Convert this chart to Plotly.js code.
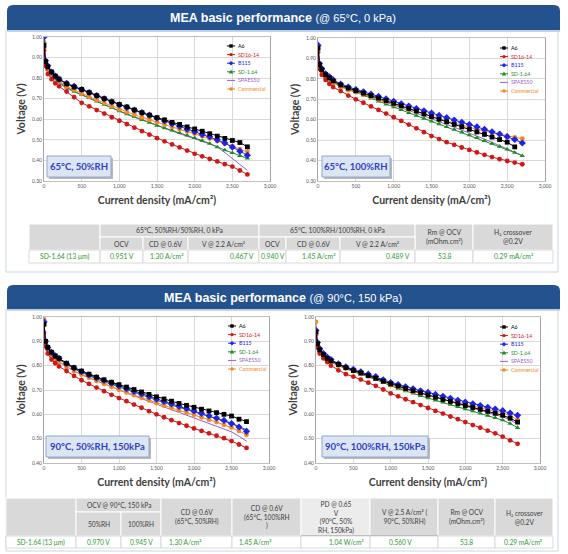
<!DOCTYPE html>
<html><head><meta charset="utf-8">
<script src="https://cdn.plot.ly/plotly-3.0.1.min.js"></script>
<style>html,body{margin:0;padding:0;background:#fff;}#chart{width:568px;height:554px;}</style>
</head><body><div id="chart"></div>
<script>
// ---------------- DATA ----------------
const currentDensity = [0,20,50,100,150,200,300,400,500,600,700,800,900,1000,1100,1200,1300,1400,1500,1600,1700,1800,1900,2000,2100,2200,2300,2400,2500,2600,2700];
const seriesNames = ['A6','SD16-14','B115','SD-1.64','SPAES50','Commercial'];

// 65°C, 50%RH
const tl_A6 = [0.96,0.88,0.855,0.83,0.81,0.795,0.772,0.757,0.745,0.73,0.715,0.70,0.685,0.672,0.66,0.645,0.632,0.62,0.608,0.597,0.585,0.575,0.563,0.553,0.542,0.53,0.518,0.507,0.497,0.487,0.466];
const tl_SD1614 = [0.935,0.86,0.82,0.795,0.775,0.76,0.735,0.707,0.68,0.663,0.645,0.628,0.61,0.593,0.576,0.559,0.542,0.525,0.508,0.493,0.478,0.463,0.448,0.432,0.42,0.407,0.395,0.382,0.37,0.351,0.332];
const tl_B115 = [1.00,0.885,0.86,0.83,0.81,0.795,0.775,0.76,0.745,0.73,0.715,0.70,0.685,0.67,0.658,0.645,0.632,0.62,0.605,0.592,0.578,0.565,0.552,0.54,0.527,0.515,0.50,0.485,0.465,0.445,0.425];
const tl_SD164 = [0.95,0.87,0.84,0.815,0.795,0.78,0.755,0.735,0.72,0.704,0.688,0.672,0.656,0.64,0.626,0.612,0.598,0.584,0.57,0.558,0.546,0.534,0.522,0.51,0.496,0.482,0.465,0.45,0.437,0.423,0.41];
const tl_SPAES50 = [0.96,0.87,0.84,0.81,0.79,0.775,0.75,0.732,0.718,0.702,0.686,0.67,0.654,0.638,0.624,0.61,0.596,0.582,0.568,0.556,0.543,0.53,0.518,0.505,0.492,0.48,0.466,0.44,0.41,0.38,0.352];
const tl_Commercial = [0.975,0.87,0.845,0.815,0.80,0.785,0.76,0.742,0.725,0.71,0.694,0.679,0.663,0.648,0.635,0.622,0.61,0.597,0.585,0.574,0.563,0.552,0.541,0.53,0.518,0.506,0.494,0.482,0.47,0.455,0.441];

// 65°C, 100%RH
const tr_A6 = [0.95,0.87,0.845,0.82,0.805,0.79,0.77,0.755,0.742,0.73,0.718,0.706,0.693,0.68,0.668,0.655,0.642,0.628,0.615,0.602,0.59,0.577,0.565,0.553,0.54,0.528,0.515,0.503,0.49,0.467,null];
const tr_SD1614 = [0.93,0.85,0.82,0.795,0.775,0.76,0.74,0.718,0.70,0.683,0.665,0.648,0.63,0.612,0.594,0.576,0.558,0.539,0.52,0.505,0.49,0.477,0.464,0.452,0.44,0.428,0.417,0.407,0.398,0.39,0.382];
const tr_B115 = [0.965,0.875,0.85,0.825,0.81,0.795,0.775,0.76,0.748,0.737,0.725,0.714,0.702,0.69,0.678,0.667,0.655,0.644,0.633,0.621,0.61,0.598,0.587,0.576,0.565,0.553,0.541,0.53,0.517,0.503,0.486];
const tr_SD164 = [0.955,0.865,0.84,0.815,0.80,0.785,0.763,0.747,0.735,0.72,0.705,0.69,0.676,0.662,0.648,0.634,0.62,0.606,0.592,0.579,0.565,0.552,0.539,0.525,0.511,0.497,0.483,0.469,0.455,0.439,0.423];
const tr_SPAES50 = [0.96,0.87,0.84,0.815,0.80,0.785,0.765,0.75,0.738,0.725,0.712,0.699,0.687,0.674,0.66,0.646,0.632,0.618,0.605,0.591,0.577,0.563,0.549,0.535,0.52,0.505,0.489,0.473,0.457,0.441,0.425];
const tr_Commercial = [0.96,0.86,0.835,0.81,0.795,0.78,0.76,0.745,0.735,0.723,0.712,0.70,0.688,0.675,0.663,0.651,0.64,0.628,0.617,0.605,0.594,0.583,0.572,0.562,0.553,0.544,0.536,0.528,0.52,0.513,0.507];

// 90°C, 50%RH, 150kPa
const bl_A6 = [0.97,0.90,0.875,0.855,0.84,0.83,0.81,0.792,0.778,0.765,0.753,0.742,0.732,0.722,0.712,0.702,0.692,0.682,0.672,0.663,0.654,0.645,0.637,0.629,0.621,0.614,0.607,0.60,0.593,0.58,0.57];
const bl_SD1614 = [0.935,0.88,0.85,0.825,0.81,0.797,0.778,0.758,0.74,0.725,0.71,0.695,0.68,0.667,0.654,0.64,0.627,0.613,0.60,0.588,0.576,0.564,0.553,0.542,0.532,0.522,0.512,0.502,0.49,0.476,0.462];
const bl_B115 = [0.98,0.90,0.875,0.855,0.84,0.83,0.808,0.79,0.775,0.762,0.75,0.739,0.728,0.716,0.705,0.694,0.684,0.673,0.662,0.653,0.643,0.633,0.624,0.614,0.604,0.594,0.585,0.575,0.562,0.548,0.53];
const bl_SD164 = [0.975,0.895,0.87,0.85,0.835,0.825,0.805,0.787,0.772,0.758,0.746,0.734,0.723,0.712,0.70,0.689,0.678,0.668,0.658,0.648,0.638,0.629,0.62,0.611,0.602,0.593,0.584,0.575,0.564,0.55,0.536];
const bl_SPAES50 = [0.975,0.89,0.865,0.845,0.83,0.815,0.795,0.778,0.763,0.75,0.737,0.725,0.713,0.70,0.688,0.676,0.664,0.652,0.641,0.63,0.619,0.608,0.597,0.586,0.575,0.564,0.553,0.541,0.528,0.51,0.49];
const bl_Commercial = [0.99,0.89,0.865,0.84,0.825,0.815,0.795,0.778,0.763,0.75,0.737,0.725,0.713,0.701,0.69,0.679,0.668,0.657,0.646,0.636,0.626,0.616,0.607,0.598,0.588,0.578,0.568,0.557,0.546,0.532,0.516];

// 90°C, 100%RH, 150kPa
const br_A6 = [0.94,0.89,0.865,0.845,0.83,0.82,0.805,0.792,0.78,0.77,0.759,0.748,0.736,0.725,0.716,0.706,0.697,0.688,0.679,0.67,0.661,0.653,0.644,0.636,0.628,0.62,0.612,0.604,0.596,0.584,0.568];
const br_SD1614 = [0.93,0.875,0.85,0.83,0.815,0.80,0.781,0.765,0.755,0.743,0.73,0.717,0.702,0.686,0.674,0.662,0.65,0.638,0.626,0.614,0.603,0.591,0.58,0.568,0.556,0.545,0.533,0.522,0.508,0.493,0.479];
const br_B115 = [0.945,0.895,0.87,0.85,0.835,0.825,0.808,0.795,0.785,0.775,0.765,0.755,0.742,0.731,0.722,0.713,0.705,0.697,0.69,0.682,0.674,0.666,0.658,0.65,0.643,0.636,0.629,0.622,0.615,0.605,0.596];
const br_SD164 = [0.93,0.885,0.86,0.84,0.825,0.815,0.80,0.787,0.776,0.765,0.754,0.743,0.731,0.717,0.706,0.696,0.686,0.676,0.667,0.658,0.649,0.64,0.631,0.622,0.613,0.604,0.595,0.586,0.576,0.562,0.545];
const br_SPAES50 = [0.95,0.89,0.865,0.845,0.83,0.82,0.805,0.792,0.782,0.771,0.76,0.749,0.737,0.726,0.716,0.706,0.696,0.687,0.678,0.669,0.66,0.651,0.642,0.633,0.625,0.617,0.609,0.60,0.59,0.577,0.56];
const br_Commercial = [0.98,0.885,0.86,0.84,0.825,0.815,0.80,0.788,0.778,0.767,0.757,0.747,0.735,0.72,0.711,0.702,0.693,0.685,0.677,0.669,0.661,0.654,0.647,0.641,0.634,0.627,0.62,0.613,0.606,0.595,0.578];

const panelTitles = ['MEA basic performance', 'MEA basic performance'];
const panelConditions = ['(@ 65°C, 0 kPa)', '(@ 90°C, 150 kPa)'];
const chartConditions = ['65°C, 50%RH', '65°C, 100%RH', '90°C, 50%RH, 150kPa', '90°C, 100%RH, 150kPa'];
const xTitle = 'Current density (mA/cm²)';
const yTitle = 'Voltage (V)';

// table 1
const t1GroupHeaders = ['65°C, 50%RH/50%RH, 0 kPa', '65°C, 100%RH/100%RH, 0 kPa'];
const t1SubHeaders = ['OCV', 'CD @ 0.6V', 'V @ 2.2 A/cm²', 'OCV', 'CD @ 0.6V', 'V @ 2.2 A/cm²'];
const t1SideHeaders = ['Rm @ OCV<br>(mOhm.cm²)', 'H₂ crossover<br>@0.2V'];
const t1Row = ['SD-1.64 (13 μm)', '0.951 V', '1.30 A/cm²', '0.467 V', '0.940 V', '1.45 A/cm²', '0.489 V', '53.8', '0.29 mA/cm²'];
// table 2
const t2GroupHeader = 'OCV @ 90°C, 150 kPa';
const t2SubHeaders = ['50%RH', '100%RH'];
const t2Headers = ['CD @ 0.6V<br>(65°C, 50%RH)', 'CD @ 0.6V<br>(65°C, 100%RH<br>)', 'PD @ 0.65<br>V<br>(90°C, 50%<br>RH, 150kPa)', 'V @ 2.5 A/cm² (<br>90°C, 50%RH)', 'Rm @ OCV<br>(mOhm.cm²)', 'H₂ crossover<br>@0.2V'];
const t2Row = ['SD-1.64 (13 μm)', '0.970 V', '0.945 V', '1.30 A/cm²', '1.45 A/cm²', '1.04 W/cm²', '0.560 V', '53.8', '0.29 mA/cm²'];

// ---------------- STYLE ----------------
const W = 568, H = 554;
const X = v => v / W, Y = v => 1 - v / H;
const colors = ['#000000', '#d01818', '#2222e6', '#1e8c28', '#9a5fd0', '#f5881f'];
const symbols = ['square', 'circle', 'diamond', 'triangle-up', null, 'circle'];
const FONT = 'Lato, "Open Sans", "DejaVu Sans", sans-serif';

const charts = [
  {data:[tl_A6,tl_SD1614,tl_B115,tl_SD164,tl_SPAES50,tl_Commercial], xa:'x',  ya:'y',  box:[44,270,37,181], yr:[0.3,1.0], leg:[227,46],  cond:[47,111,156,177]},
  {data:[tr_A6,tr_SD1614,tr_B115,tr_SD164,tr_SPAES50,tr_Commercial], xa:'x2', ya:'y2', box:[318,545,38,181], yr:[0.3,1.0], leg:[500,48], cond:[322,390,156,177]},
  {data:[bl_A6,bl_SD1614,bl_B115,bl_SD164,bl_SPAES50,bl_Commercial], xa:'x3', ya:'y3', box:[44,269,317,463], yr:[0.4,1.0], leg:[228,326], cond:[46,149,436,457]},
  {data:[br_A6,br_SD1614,br_B115,br_SD164,br_SPAES50,br_Commercial], xa:'x4', ya:'y4', box:[316,540,317,463], yr:[0.4,1.0], leg:[500,327], cond:[322,428,436,457]}
];

const traces = [];
const layout = {
  width: W, height: H, margin: {l:0, r:0, t:0, b:0},
  paper_bgcolor: '#ffffff', plot_bgcolor: 'rgba(0,0,0,0)', showlegend: false,
  font: {family: FONT, color: '#404040'},
  shapes: [], annotations: []
};
const shapes = layout.shapes, ann = layout.annotations;

function txt(x, y, s, size, color, anchor) {
  ann.push({xref:'paper', yref:'paper', x: X(x), y: Y(y), text: s, showarrow:false, xanchor: anchor || 'center', yanchor:'middle',
    font:{size: size, color: color, family: FONT}});
}

const drawOrder = [4, 3, 5, 2, 1, 0];
charts.forEach((c, ci) => {
  drawOrder.forEach(si => {
    const t = {
      type: 'scatter', x: currentDensity, y: c.data[si], name: seriesNames[si],
      xaxis: c.xa, yaxis: c.ya, mode: symbols[si] ? 'lines+markers' : 'lines',
      line: {color: colors[si], width: 1}, connectgaps: false, hoverinfo: 'x+y+name'
    };
    if (symbols[si]) t.marker = {symbol: symbols[si], size: symbols[si] === 'diamond' ? 5.5 : 4.8, color: colors[si]};
    traces.push(t);
  });
  const n = ci === 0 ? '' : String(ci + 1);
  layout['xaxis' + n] = {
    domain: [X(c.box[0]), X(c.box[1])], anchor: c.ya, range: [0, 3000],
    tickvals: [0,500,1000,1500,2000,2500,3000], tickformat: ',', ticks: '',
    tickfont: {size: 5, color: '#595959', family: FONT},
    title: {text: '<b>' + xTitle + '</b>', font: {size: 10.5, color: '#404040', family: FONT}, standoff: 8},
    showgrid: true, gridcolor: '#d9d9d9', gridwidth: 1, zeroline: false,
    showline: true, linecolor: '#bfbfbf', linewidth: 1, mirror: true, fixedrange: true, automargin: false
  };
  const yt = []; for (let v = Math.round(c.yr[0]*10); v <= 10; v++) yt.push(v/10);
  layout['yaxis' + n] = {
    domain: [Y(c.box[3]), Y(c.box[2])], anchor: c.xa, range: c.yr,
    tickvals: yt, tickformat: '.2f', ticks: '',
    tickfont: {size: 5, color: '#595959', family: FONT},
    title: {text: '<b>' + yTitle + '</b>', font: {size: 10.5, color: '#404040', family: FONT}, standoff: 4},
    showgrid: true, gridcolor: '#d9d9d9', gridwidth: 1, zeroline: false,
    showline: true, linecolor: '#a6a6a6', linewidth: 1, mirror: true, fixedrange: true, automargin: false
  };
  // custom legend
  seriesNames.forEach((nm, si) => {
    const lx = c.leg[0], ly = c.leg[1] + si * 8.6;
    shapes.push({type:'line', xref:'paper', yref:'paper', x0: X(lx), x1: X(lx + 8), y0: Y(ly), y1: Y(ly), line:{color: colors[si], width: 1}});
    const cx = lx + 4, r = 1.7;
    if (symbols[si] === 'square') shapes.push({type:'rect', xref:'paper', yref:'paper', x0:X(cx-r), x1:X(cx+r), y0:Y(ly+r), y1:Y(ly-r), fillcolor: colors[si], line:{width:0}});
    else if (symbols[si] === 'circle') shapes.push({type:'circle', xref:'paper', yref:'paper', x0:X(cx-r), x1:X(cx+r), y0:Y(ly+r), y1:Y(ly-r), fillcolor: colors[si], line:{width:0}});
    else if (symbols[si] === 'diamond') shapes.push({type:'path', xref:'paper', yref:'paper', path:`M${X(cx-2.2)},${Y(ly)} L${X(cx)},${Y(ly-2.2)} L${X(cx+2.2)},${Y(ly)} L${X(cx)},${Y(ly+2.2)} Z`, fillcolor: colors[si], line:{width:0}});
    else if (symbols[si] === 'triangle-up') shapes.push({type:'path', xref:'paper', yref:'paper', path:`M${X(cx-2.2)},${Y(ly+1.8)} L${X(cx)},${Y(ly-2.2)} L${X(cx+2.2)},${Y(ly+1.8)} Z`, fillcolor: colors[si], line:{width:0}});
    txt(lx + 9, ly, nm, 5.3, colors[si], 'left');
  });
  // condition box
  const b = c.cond;
  shapes.push({type:'rect', xref:'paper', yref:'paper', x0:X(b[0]+2), x1:X(b[1]+2), y0:Y(b[3]+2), y1:Y(b[2]+2), fillcolor:'#b8b8b8', line:{width:0}});
  shapes.push({type:'rect', xref:'paper', yref:'paper', x0:X(b[0]), x1:X(b[1]), y0:Y(b[3]), y1:Y(b[2]), fillcolor:'#dbe5f3', line:{color:'#8fa9cf', width:1}});
  txt((b[0]+b[1])/2, (b[2]+b[3])/2, '<b>' + chartConditions[ci] + '</b>', 9.5, '#2f3fc4');
});

// panel frames and banners
function roundedTop(x0, x1, y0, y1, r) {
  return `M${X(x0)},${Y(y1)} L${X(x0)},${Y(y0+r)} Q${X(x0)},${Y(y0)} ${X(x0+r)},${Y(y0)} L${X(x1-r)},${Y(y0)} Q${X(x1)},${Y(y0)} ${X(x1)},${Y(y0+r)} L${X(x1)},${Y(y1)} Z`;
}
[[5, 30, 272], [285, 309, 551]].forEach((p, pi) => {
  shapes.push({type:'rect', xref:'paper', yref:'paper', layer:'below', x0:X(6), x1:X(558), y0:Y(p[2]), y1:Y(p[1]), fillcolor:'rgba(0,0,0,0)', line:{color:'#c9d5e4', width:1}});
  shapes.push({type:'path', xref:'paper', yref:'paper', path: roundedTop(7, 560, p[0], p[1], 6), fillcolor:'#24528f', line:{width:0}});
  shapes.push({type:'line', xref:'paper', yref:'paper', x0:X(7), x1:X(560), y0:Y(p[1]+1), y1:Y(p[1]+1), line:{color:'#b3c6de', width:1.5}});
  ann.push({xref:'paper', yref:'paper', x: X(283), y: Y((p[0]+p[1])/2 + 0.5), showarrow:false, xanchor:'center', yanchor:'middle',
    text: '<b>' + panelTitles[pi] + '</b> <span style="font-size:11px">' + panelConditions[pi] + '</span>',
    font: {size: 12.5, color: '#ffffff', family: '"Liberation Sans", Arial, sans-serif'}});
});

// tables
function cell(x0, x1, y0, y1, fill, lc) {
  shapes.push({type:'rect', xref:'paper', yref:'paper', x0:X(x0), x1:X(x1), y0:Y(y1), y1:Y(y0), fillcolor: fill, line:{color: lc, width: 1}});
}
const HF = '#d9d9d9', HL = '#ffffff', HT = '#404040', DT = '#2f9a35';
const F1 = 6.8, F2 = 6.6;
// table 1
{
  const c = [29,100,143,188,259,286,340,415,473,553], r = [224,237,250,263];
  cell(c[0], c[1], r[0], r[2], HF, HL);
  cell(c[1], c[4], r[0], r[1], HF, HL); txt((c[1]+c[4])/2, (r[0]+r[1])/2, t1GroupHeaders[0], F1, HT);
  cell(c[4], c[7], r[0], r[1], HF, HL); txt((c[4]+c[7])/2, (r[0]+r[1])/2, t1GroupHeaders[1], F1, HT);
  cell(c[7], c[8], r[0], r[2], HF, HL); txt((c[7]+c[8])/2, (r[0]+r[2])/2, t1SideHeaders[0], F1, HT);
  cell(c[8], c[9], r[0], r[2], HF, HL); txt((c[8]+c[9])/2, (r[0]+r[2])/2, t1SideHeaders[1], F1, HT);
  for (let i = 0; i < 6; i++) { cell(c[i+1], c[i+2], r[1], r[2], HF, HL); txt((c[i+1]+c[i+2])/2, (r[1]+r[2])/2, t1SubHeaders[i], F1, HT); }
  const align = ['center','center','right','right','center','right','right','center','center'];
  for (let i = 0; i < 9; i++) {
    cell(c[i], c[i+1], r[2], r[3], '#ffffff', '#d9d9d9');
    const xx = align[i] === 'right' ? c[i+1] - 3 : (c[i]+c[i+1])/2;
    txt(xx, (r[2]+r[3])/2, t1Row[i], F1, DT, align[i]);
  }
}
// table 2
{
  const c = [6,76,121,161,232,301,370,438,495,553], r = [498,512,536,548];
  cell(c[0], c[1], r[0], r[2], HF, HL);
  cell(c[1], c[3], r[0], r[1], HF, HL); txt((c[1]+c[3])/2, (r[0]+r[1])/2, t2GroupHeader, F2, HT);
  cell(c[1], c[2], r[1], r[2], HF, HL); txt((c[1]+c[2])/2, (r[1]+r[2])/2, t2SubHeaders[0], F2, HT);
  cell(c[2], c[3], r[1], r[2], HF, HL); txt((c[2]+c[3])/2, (r[1]+r[2])/2, t2SubHeaders[1], F2, HT);
  for (let i = 0; i < 6; i++) {
    const fill = i === 2 ? '#ececec' : HF;
    cell(c[i+3], c[i+4], r[0], r[2], fill, HL);
    txt((c[i+3]+c[i+4])/2, (r[0]+r[2])/2, t2Headers[i], F2, HT);
  }
  shapes.push({type:'line', xref:'paper', yref:'paper', x0:X(301), x1:X(438), y0:Y(536), y1:Y(536), line:{color:'#595959', width:1.2}});
  const xs = [41, 98, 141, 185, 255, 355, 400, 466, 523];
  const al = ['center','center','center','center','center','right','center','center','center'];
  for (let i = 0; i < 9; i++) {
    cell(c[i], c[i+1], r[2], r[3], '#ffffff', '#d9d9d9');
    txt(al[i] === 'right' ? c[i+1] - 4 : xs[i], (r[2]+r[3])/2, t2Row[i], F2, DT, al[i]);
  }
}

Plotly.newPlot('chart', traces, layout, {displayModeBar: false, staticPlot: true});
</script>
</body></html>
